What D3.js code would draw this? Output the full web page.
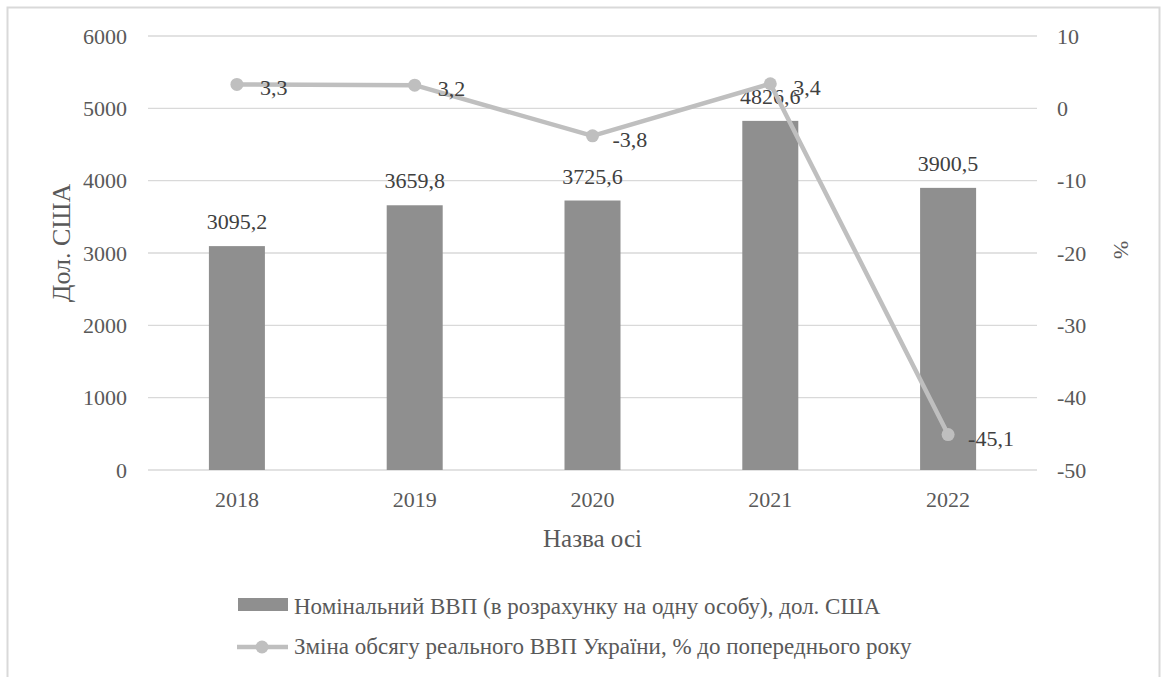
<!DOCTYPE html>
<html><head><meta charset="utf-8">
<script src="https://cdn.jsdelivr.net/npm/d3@7"></script>
</head>
<body style="margin:0;padding:0;background:#fff;"><svg id="c" width="1166" height="677" style="display:block"></svg>
<script>
const years = ["2018","2019","2020","2021","2022"];
const gdpNominal = [3095.2, 3659.8, 3725.6, 4826.6, 3900.5];
const gdpChange = [3.3, 3.2, -3.8, 3.4, -45.1];
const leftTicks = [0,1000,2000,3000,4000,5000,6000];
const rightTicks = [-50,-40,-30,-20,-10,0,10];
const barName = "Номінальний ВВП (в розрахунку на одну особу), дол. США";
const lineName = "Зміна обсягу реального ВВП України, % до попереднього року";
const fmt = v => String(v).replace(".", ",");

const FONT = '"Liberation Serif", serif';
const svg = d3.select("#c");
const L = 148, R = 1037, T = 36, B = 470;
const x = d3.scaleBand().domain(years).range([L, R]);
const y = d3.scaleLinear().domain([0, 6000]).range([B, T]);
const y2 = d3.scaleLinear().domain([-50, 10]).range([B, T]);
const tickColor = "#595959";
const TFS = 22, LFS = 22;

svg.append("rect").attr("x",7.5).attr("y",7.5).attr("width",1152).attr("height",700)
  .attr("fill","#fff").attr("stroke","#d9d9d9").attr("stroke-width",2);

// gridlines
svg.append("g").selectAll("line").data(leftTicks).join("line")
  .attr("x1",L).attr("x2",R).attr("y1",d=>y(d)).attr("y2",d=>y(d))
  .attr("stroke","#d9d9d9").attr("stroke-width",1.3);

// axes
const yAxis = d3.axisLeft(y).tickValues(leftTicks).tickSize(0).tickPadding(0).tickFormat(d=>d);
const gl = svg.append("g").attr("transform",`translate(${L-21},0)`).call(yAxis);
gl.attr("font-family",null).attr("font-size",null);
gl.select(".domain").remove();
gl.selectAll("text").style("font-family",FONT).style("font-size",TFS+"px").attr("fill",tickColor);

const y2Axis = d3.axisRight(y2).tickValues(rightTicks).tickSize(0).tickPadding(0).tickFormat(d=>d);
const gr = svg.append("g").attr("transform",`translate(1057,0)`).call(y2Axis);
gr.attr("font-family",null).attr("font-size",null);
gr.select(".domain").remove();
gr.selectAll("text").style("font-family",FONT).style("font-size",TFS+"px").attr("fill",tickColor);

const xAxis = d3.axisBottom(x).tickSize(0).tickPadding(0);
const gx = svg.append("g").attr("transform",`translate(0,${B+21})`).call(xAxis);
gx.attr("font-family",null).attr("font-size",null);
gx.select(".domain").remove();
gx.selectAll("text").style("font-family",FONT).style("font-size",TFS+"px").attr("fill",tickColor);

// bars
const bw = x.bandwidth()*0.315;
svg.append("g").selectAll("rect").data(years).join("rect")
  .attr("x",(d)=>x(d)+x.bandwidth()/2-bw/2).attr("width",bw)
  .attr("y",(d,i)=>y(gdpNominal[i])).attr("height",(d,i)=>B-y(gdpNominal[i]))
  .attr("fill","#8f8f8f");

// bar labels
svg.append("g").selectAll("text").data(years).join("text")
  .style("font-family",FONT).style("font-size",LFS+"px")
  .attr("x",d=>x(d)+x.bandwidth()/2).attr("y",(d,i)=>y(gdpNominal[i])-17)
  .attr("text-anchor","middle").attr("fill","#404040")
  .text((d,i)=>fmt(gdpNominal[i]));

// line
const line = d3.line().x((d,i)=>x(years[i])+x.bandwidth()/2).y(d=>y2(d));
svg.append("path").datum(gdpChange).attr("d",line).attr("fill","none")
  .attr("stroke","#bfbfbf").attr("stroke-width",4.5).attr("stroke-linejoin","round");
svg.append("g").selectAll("circle").data(gdpChange).join("circle")
  .attr("cx",(d,i)=>x(years[i])+x.bandwidth()/2).attr("cy",d=>y2(d)).attr("r",6.5)
  .attr("fill","#bfbfbf");
svg.append("g").selectAll("text").data(gdpChange).join("text")
  .style("font-family",FONT).style("font-size",LFS+"px")
  .attr("x",(d,i)=>x(years[i])+x.bandwidth()/2+(d<0?20:23)).attr("y",d=>y2(d)+(i=>0)()+11)
  .attr("fill","#404040")
  .text(d=>fmt(d));

// axis titles
svg.append("text").attr("transform","translate(70,243) rotate(-90)")
  .style("font-family",FONT).style("font-size","26px")
  .attr("text-anchor","middle").attr("fill",tickColor).text("Дол. США");
svg.append("text").attr("transform","translate(1114,250) rotate(90)")
  .style("font-family",FONT).style("font-size","22px")
  .attr("text-anchor","middle").attr("fill",tickColor).text("%");
svg.append("text").attr("x",(L+R)/2).attr("y",547)
  .style("font-family",FONT).style("font-size","25px")
  .attr("text-anchor","middle").attr("fill",tickColor).text("Назва осі");

// legend
const lg = svg.append("g");
lg.append("rect").attr("x",238).attr("y",598).attr("width",50).attr("height",13).attr("fill","#8f8f8f");
lg.append("text").attr("x",294).attr("y",614)
  .style("font-family",FONT).style("font-size","23px").attr("fill",tickColor).text(barName);
lg.append("line").attr("x1",237).attr("x2",288).attr("y1",647).attr("y2",647)
  .attr("stroke","#bfbfbf").attr("stroke-width",4.5);
lg.append("circle").attr("cx",262).attr("cy",647).attr("r",6.5).attr("fill","#bfbfbf");
lg.append("text").attr("x",294).attr("y",654)
  .style("font-family",FONT).style("font-size","23px").attr("fill",tickColor).text(lineName);
</script></body></html>
